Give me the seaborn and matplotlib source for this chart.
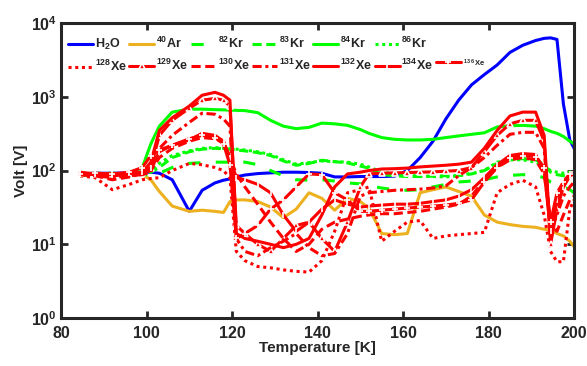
import matplotlib
matplotlib.use("Agg")
import seaborn as sns
import pandas as pd
from matplotlib import pyplot as plt
from matplotlib.lines import Line2D

# temperature grid (K) shared by all traces
temp = [84.5, 88, 92, 96, 99, 101, 103, 106, 110, 113, 116, 118, 119.5, 121, 123, 126, 129, 132,
        135, 138, 141, 144, 147, 150, 152, 155, 158, 161, 164, 167, 170, 173, 176, 179, 182, 185,
        188, 191, 193, 194.5, 196, 197.5, 199, 200]

h2o = [90, 92, 92, 93, 95, 95, 92, 75, 28, 54, 68, 74, 77, 82, 87, 91, 93, 95, 95, 94, 92, 82,
       82, 83, 83, 83, 84, 100, 150, 250, 500, 900, 1450, 2000, 2700, 4000, 5000, 5800, 6200,
       6300, 6000, 800, 260, 200]
ar40 = [85, 90, 88, 90, 88, 75, 52, 33, 28, 29, 28, 27, 38, 40, 40, 38, 32, 23, 30, 50, 42, 29,
        42, 38, 31, 14, 13.5, 14, 50, 55, 60, 52, 45, 25, 20, 18.5, 17.5, 17, 16, 15.6, 14, 13,
        11, 9.3]
kr82 = [85, 90, 88, 90, 88, 88, 92, 110, 125, 128, 130, 130, 130, 130, 130, 120, 100, 85, 75,
        74, 75, 72, 68, 66, 62, 58, 55, 54, 55, 60, 65, 70, 72, 75, 82, 86, 88, 86, 80, 70, 65,
        60, 55, 50]
kr83 = [88, 90, 92, 90, 92, 95, 110, 150, 180, 195, 200, 198, 195, 190, 185, 175, 160, 135, 118,
        125, 138, 132, 127, 115, 108, 88, 85, 83, 83, 84, 85, 86, 90, 100, 125, 140, 145, 140,
        120, 95, 88, 85, 82, 80]
kr84 = [90, 92, 90, 90, 110, 230, 400, 620, 680, 680, 670, 665, 660, 655, 650, 610, 480, 400,
        370, 385, 440, 430, 410, 360, 320, 280, 265, 260, 260, 265, 280, 295, 310, 325, 390, 405,
        410, 400, 370, 340, 320, 290, 250, 230]
kr86 = [90, 88, 90, 92, 95, 100, 125, 160, 185, 200, 205, 200, 198, 195, 190, 180, 165, 140, 122,
        128, 135, 132, 130, 122, 112, 95, 90, 86, 84, 83, 82, 85, 92, 100, 130, 140, 140, 130,
        115, 100, 95, 92, 95, 95]
xe128 = [85, 80, 55, 65, 75, 78, 80, 100, 125, 120, 110, 100, 80, 8, 6, 5, 4.8, 4.5, 4.3, 4.2,
         6, 15, 50, 55, 60, 11, 15, 20, 21, 12, 13, 13.5, 14, 14.5, 50, 65, 74, 60, 25, 8, 5.8,
         5.8, 30, 40]
xe129 = [92, 90, 85, 88, 92, 110, 300, 480, 700, 900, 950, 900, 750, 18, 14, 10, 8, 12, 18, 20,
         12, 8, 20, 60, 90, 92, 93, 94, 95, 96, 98, 100, 110, 180, 300, 430, 480, 480, 250, 10,
         30, 60, 85, 90]
xe130 = [88, 85, 75, 82, 90, 100, 150, 200, 250, 280, 270, 240, 150, 90, 60, 35, 20, 12, 8, 10,
         16, 20, 22, 24, 25, 26, 26, 27, 28, 30, 32, 35, 45, 75, 110, 140, 150, 140, 90, 20, 15,
         25, 40, 45]
xe131 = [88, 85, 80, 85, 88, 95, 200, 300, 450, 600, 580, 500, 400, 12, 8, 7, 9, 11, 14, 9, 7,
         7.5, 14, 45, 50, 52, 54, 55, 56, 58, 62, 85, 110, 150, 220, 310, 330, 330, 200, 15, 25,
         45, 60, 70]
xe132 = [90, 88, 90, 92, 95, 130, 350, 520, 750, 1050, 1150, 1050, 900, 14, 12, 11, 10, 9, 10,
         12, 25, 60, 90, 95, 100, 105, 106, 108, 112, 115, 118, 122, 130, 200, 350, 550, 620, 620,
         300, 12, 40, 70, 90, 95]
xe134 = [95, 90, 88, 92, 95, 110, 180, 220, 260, 320, 300, 250, 150, 80, 75, 65, 50, 25, 15, 20,
         30, 40, 35, 32, 33, 34, 35, 35, 36, 38, 40, 45, 55, 80, 120, 160, 170, 165, 100, 15, 40,
         60, 85, 90]
xe136 = [90, 92, 90, 95, 110, 160, 190, 220, 270, 300, 280, 230, 120, 12, 14, 18, 30, 40, 60, 90,
         88, 50, 40, 28, 28, 29, 30, 31, 32, 33, 34, 36, 40, 70, 110, 150, 160, 155, 110, 20, 50,
         70, 90, 95]

df = pd.DataFrame({"T": temp, "H2O": h2o, "Ar40": ar40, "Kr82": kr82, "Kr83": kr83,
                   "Kr84": kr84, "Kr86": kr86, "Xe128": xe128, "Xe129": xe129, "Xe130": xe130,
                   "Xe131": xe131, "Xe132": xe132, "Xe134": xe134, "Xe136": xe136})

blue, orange, green, red = "#0000ff", "#edb120", "#00ff00", "#ff0000"

# column, label, color, linestyle, marker
series = [
    ("H2O", r"H$_2$O", blue, "-", None),
    ("Ar40", r"$^{40}$Ar", orange, "-", None),
    ("Kr82", r"$^{82}$Kr", green, (0, (4, 5)), None),
    ("Kr83", r"$^{83}$Kr", green, (0, (3, 1.5)), None),
    ("Kr84", r"$^{84}$Kr", green, "-", None),
    ("Kr86", r"$^{86}$Kr", green, (0, (1, 1.2)), None),
    ("Xe128", r"$^{128}$Xe", red, (0, (1, 1.2)), None),
    ("Xe129", r"$^{129}$Xe", red, "-", "^"),
    ("Xe130", r"$^{130}$Xe", red, (0, (3, 1.5)), None),
    ("Xe131", r"$^{131}$Xe", red, (0, (3, 1.2, 1, 1.2)), None),
    ("Xe132", r"$^{132}$Xe", red, "-", None),
    ("Xe134", r"$^{134}$Xe", red, "-", "|"),
    ("Xe136", r"$^{1\,3\,6}$Xe", red, "-", "+"),
]

sns.set_style("ticks")
plt.rcParams["font.family"] = ["Liberation Sans", "DejaVu Sans"]
plt.rcParams["font.weight"] = "bold"
plt.rcParams["mathtext.fontset"] = "custom"
plt.rcParams["mathtext.rm"] = "Liberation Sans:bold"
plt.rcParams["mathtext.bf"] = "Liberation Sans:bold"
plt.rcParams["mathtext.default"] = "regular"

fig = plt.figure(figsize=(5.87, 3.66), dpi=100)
ax = fig.add_axes([0.104, 0.131, 0.874, 0.806])

for col, label, color, ls, mk in series:
    sns.lineplot(data=df, x="T", y=col, color=color, linestyle=ls, linewidth=2.2,
                 marker=mk, markersize=4, markeredgewidth=1.2, label=label, ax=ax)

ax.set_yscale("log")
ax.set_xlim(80, 200)
ax.set_ylim(1, 1e4)
ax.set_xticks([80, 100, 120, 140, 160, 180, 200])
ax.set_yticks([1, 10, 100, 1000, 10000])
ax.minorticks_off()
ax.tick_params(direction="in", length=5, width=2, labelsize=11.5, top=True, right=True,
               colors="#262626", pad=3)
ax.tick_params(axis="x", pad=6)
for lab in ax.get_xticklabels() + ax.get_yticklabels():
    lab.set_fontweight("bold")
for sp in ax.spines.values():
    sp.set_linewidth(2.2)
    sp.set_color("#262626")

ax.set_xlabel("Temperature [K]", fontsize=11, fontweight="bold", labelpad=0)
ax.set_ylabel("Volt [V]", fontsize=11, fontweight="bold", labelpad=2)

handles, labels = ax.get_legend_handles_labels()
# row-major order for a 2 x 7 legend: pad the first row with a blank slot
blank = Line2D([], [], linestyle="none")
order = []
for i in range(7):
    top = handles[i] if i < 6 else blank
    toplab = labels[i] if i < 6 else ""
    order.append((top, toplab))
    order.append((handles[6 + i], labels[6 + i]))
leg = ax.legend([h for h, _ in order], [l for _, l in order], ncol=7, loc="upper left",
                bbox_to_anchor=(-0.008, 0.995), frameon=False, handlelength=2.0,
                handletextpad=0.15, columnspacing=0.2, labelspacing=0.55, borderaxespad=0.5,
                prop={"weight": "bold", "size": 9})
leg.get_texts()[-1].set_fontsize(5.5)

fig.savefig("out.png", dpi=100)
